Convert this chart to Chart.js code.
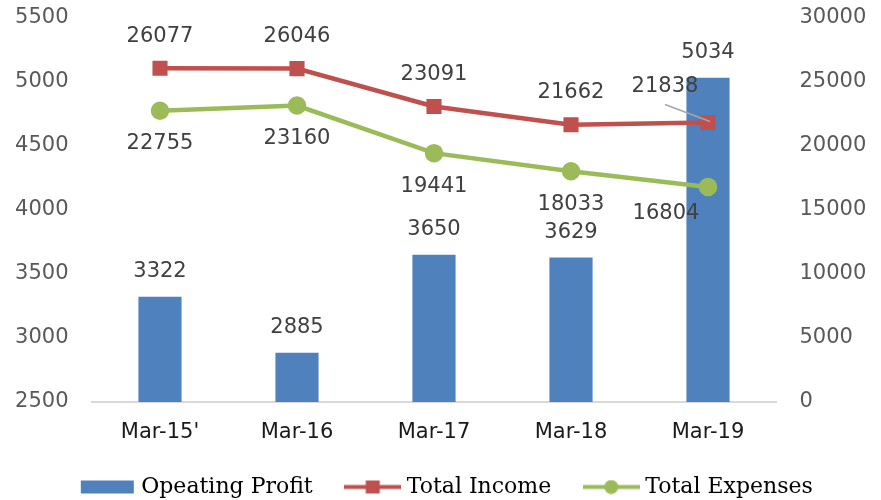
<!DOCTYPE html>
<html><head><meta charset="utf-8">
<script src="https://cdn.jsdelivr.net/npm/chart.js@4/dist/chart.umd.min.js"></script>
<style>html,body{margin:0;padding:0;background:#fff}#wrap{width:881px;height:500px}</style>
</head><body><div id="wrap"><canvas id="c" width="881" height="500"></canvas></div>
<script>
const categories = ["Mar-15'", "Mar-16", "Mar-17", "Mar-18", "Mar-19"];
const operatingProfit = [3322, 2885, 3650, 3629, 5034];
const totalIncome = [26077, 26046, 23091, 21662, 21838];
const totalExpenses = [22755, 23160, 19441, 18033, 16804];
const seriesNames = ["Opeating Profit", "Total Income", "Total Expenses"];

const BLUE = '#4F81BD', RED = '#C0504D', GREEN = '#9BBB59';
const tickFont = {family: "DejaVu Sans", size: 21};

function legendImg(kind, color) {
  const c = document.createElement('canvas');
  c.width = 57; c.height = 15;
  const g = c.getContext('2d');
  if (kind === 'bar') {
    g.fillStyle = color; g.fillRect(2, 1, 53, 13);
  } else {
    g.strokeStyle = color; g.lineWidth = 4;
    g.beginPath(); g.moveTo(0, 7.5); g.lineTo(57, 7.5); g.stroke();
    g.fillStyle = color;
    if (kind === 'square') g.fillRect(21.5, 1, 14, 13);
    else { g.beginPath(); g.arc(28.5, 7.5, 7, 0, Math.PI * 2); g.fill(); }
  }
  return c;
}
const legendImgs = {bar: legendImg('bar', BLUE), income: legendImg('square', RED), expenses: legendImg('circle', GREEN)};

// label placement per series key
const labelOffsets = {
  bar: {dy: -25, special: {}},
  income: {dy: -32, special: {4: {dx: -43, dy: -36, leader: true}}},
  expenses: {dy: 33, special: {4: {dx: -42, dy: 27}}}
};

const valueLabels = {
  id: 'valueLabels',
  afterDatasetsDraw(chart) {
    const ctx = chart.ctx;
    ctx.save();
    ctx.font = "21px 'DejaVu Sans'";
    ctx.fillStyle = '#404040';
    ctx.textAlign = 'center';
    ctx.textBaseline = 'middle';
    chart.data.datasets.forEach((ds, di) => {
      const meta = chart.getDatasetMeta(di);
      const off = labelOffsets[ds.key];
      meta.data.forEach((el, i) => {
        const sp = off.special[i] || {};
        const dx = sp.dx || 0, dy = sp.dy !== undefined ? sp.dy : off.dy;
        const tx = el.x + dx, ty = el.y + dy;
        if (sp.leader) {
          ctx.save();
          ctx.strokeStyle = '#A6A6A6'; ctx.lineWidth = 1.5;
          ctx.beginPath(); ctx.moveTo(tx, ty + 18); ctx.lineTo(el.x + 2, el.y - 1); ctx.stroke();
          ctx.restore();
        }
        ctx.fillText(String(ds.data[i]), tx, ty);
      });
    });
    ctx.restore();
  }
};

function noVPad(s) { s.paddingTop = 0; s.paddingBottom = 0; }

new Chart(document.getElementById('c'), {
  data: {
    labels: categories,
    datasets: [
      {key: 'income', type: 'line', label: seriesNames[1], data: totalIncome, yAxisID: 'y2',
       borderColor: RED, backgroundColor: RED, borderWidth: 4.5, pointStyle: 'rect',
       pointRadius: 7.5, pointHoverRadius: 7.5, tension: 0, order: 1},
      {key: 'expenses', type: 'line', label: seriesNames[2], data: totalExpenses, yAxisID: 'y2',
       borderColor: GREEN, backgroundColor: GREEN, borderWidth: 4.5, pointStyle: 'circle',
       pointRadius: 7, pointHoverRadius: 7, tension: 0, order: 0},
      {key: 'bar', type: 'bar', label: seriesNames[0], data: operatingProfit, yAxisID: 'y',
       backgroundColor: BLUE, borderWidth: 0, barPercentage: 0.315, categoryPercentage: 1, order: 2}
    ]
  },
  options: {
    responsive: false,
    animation: false,
    events: [],
    layout: {autoPadding: false, padding: {top: 18, bottom: -8, left: 16, right: 0}},
    scales: {
      x: {
        offset: true,
        grid: {display: false, drawTicks: false},
        border: {display: true, color: '#D9D9D9', width: 2},
        ticks: {font: tickFont, color: '#1a1a1a', padding: 18, maxRotation: 0},
        afterFit(s) { s.height = 37; s.paddingLeft = 0; s.paddingRight = 0; }
      },
      y: {
        position: 'left', min: 2500, max: 5500,
        grid: {display: false, drawTicks: false},
        border: {display: false},
        ticks: {stepSize: 500, font: tickFont, color: '#595959', padding: 23, callback: v => String(v)},
        afterFit(s) { s.width = 75.5; noVPad(s); }
      },
      y2: {
        position: 'right', min: 0, max: 30000,
        grid: {display: false, drawTicks: false},
        border: {display: false},
        ticks: {stepSize: 5000, font: tickFont, color: '#595959', padding: 23, callback: v => String(v)},
        afterFit(s) { s.width = 104.5; noVPad(s); }
      }
    },
    plugins: {
      tooltip: {enabled: false},
      legend: {
        position: 'bottom',
        labels: {
          usePointStyle: true,
          pointStyleWidth: 46,
          boxHeight: 15,
          padding: 37,
          color: '#595959',
          font: {family: "DejaVu Serif", size: 22},
          generateLabels(chart) {
            const ds = chart.data.datasets;
            return [2, 0, 1].map(di => ({
              text: ds[di].label,
              pointStyle: legendImgs[ds[di].key],
              fillStyle: 'transparent', strokeStyle: 'transparent', lineWidth: 0,
              datasetIndex: di, hidden: false
            }));
          }
        }
      }
    }
  },
  plugins: [valueLabels]
});
</script></body></html>
